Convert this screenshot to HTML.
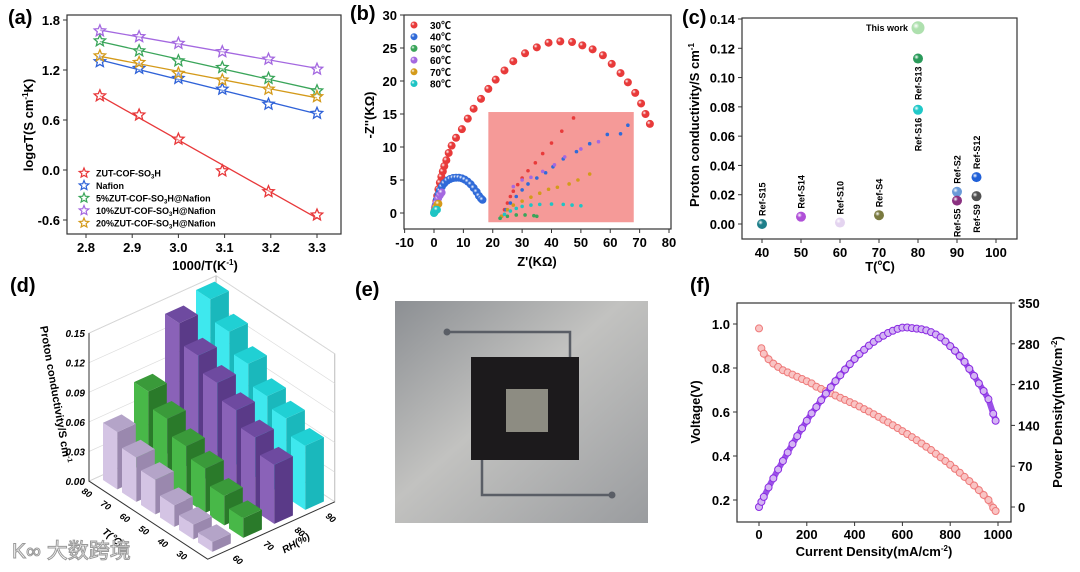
<!DOCTYPE html>
<html><head><meta charset="utf-8">
<style>
html,body{margin:0;padding:0;background:#fff;}
svg{display:block;font-family:"Liberation Sans","Noto Sans CJK SC",sans-serif;font-weight:bold;}
</style></head>
<body>
<svg id="fig" xmlns="http://www.w3.org/2000/svg" width="1080" height="572" viewBox="0 0 1080 572">
<defs>
<linearGradient id="photoBg" x1="0" y1="0" x2="1" y2="1">
<stop offset="0" stop-color="#8c8f93"/><stop offset="0.45" stop-color="#c2c2c0"/><stop offset="1" stop-color="#9a9c9f"/>
</linearGradient>
</defs>
<g id="pa"></g>
<g id="pb"></g>
<g id="pc"></g>
<g id="pd"></g>
<g id="pe">
<rect x="395" y="301" width="253" height="222" fill="url(#photoBg)"/>
<path d="M447 332 H570 V357 M482 460 V495 H612" stroke="#5a5e66" stroke-width="2.5" fill="none"/>
<circle cx="447" cy="332" r="3.5" fill="#5a5e66"/>
<circle cx="612" cy="495" r="3.5" fill="#5a5e66"/>
<rect x="471" y="357" width="108" height="103" fill="#1c1a1c"/>
<rect x="506" y="389" width="42" height="43" fill="#8d8c82"/>
</g>
<g id="pf"></g>
<text x="8" y="24" font-size="20">(a)</text>
<text x="350" y="20" font-size="20">(b)</text>
<text x="682" y="24" font-size="20">(c)</text>
<text x="10" y="292" font-size="20">(d)</text>
<text x="355" y="296" font-size="20">(e)</text>
<text x="690" y="292" font-size="20">(f)</text>
<text x="12" y="558" font-size="21" fill="#fff" stroke="#999" stroke-width="1" font-weight="normal">K∞ 大数跨境</text>
</svg>
<script>
// ---------- Panel a data ----------
const aX = [2.83, 2.915, 3.0, 3.095, 3.195, 3.3];
const aRed = [0.89, 0.66, 0.37, -0.01, -0.26, -0.54];
const aBlue = [1.30, 1.22, 1.10, 0.97, 0.79, 0.68];
const aGreen = [1.55, 1.43, 1.31, 1.23, 1.10, 0.95];
const aPurple = [1.67, 1.60, 1.52, 1.42, 1.33, 1.21];
const aOrange = [1.37, 1.29, 1.16, 1.08, 0.97, 0.88];
const aNames = ["ZUT-COF-SO3H", "Nafion", "5%ZUT-COF-SO3H@Nafion", "10%ZUT-COF-SO3H@Nafion", "20%ZUT-COF-SO3H@Nafion"];
const aXTicks = [2.8, 2.9, 3.0, 3.1, 3.2, 3.3];
const aYTicks = [-0.6, 0.0, 0.6, 1.2, 1.8];
// ---------- Panel b data ----------
const bRedX = [0.2,0.5,0.8,1.1,1.5,2,2.5,3,3.5,4.2,5,6,7.5,9.5,11.5,13.5,16,18.5,21,24,27,31,35,39,43,47,50.5,54,57.5,60.5,63.5,66,68.5,70.5,72,73.5];
const bRedY = [0.3,1,1.8,2.6,3.6,4.6,5.5,6.3,7.1,8.0,9.1,10.2,11.4,12.7,14.3,15.8,17.3,18.8,20.2,21.6,23,24.2,25.1,25.8,26,25.9,25.4,24.8,23.9,22.6,21.2,19.8,18.2,16.6,15,13.5,12];
const bBlueX = [0.3,0.6,1,1.5,2,2.7,3.5,4.5,5.5,6.5,7.5,8.5,9.5,10.5,11.5,12.5,13.5,14.5,15.3,16,16.5];
const bBlueY = [0.5,1.2,2,2.8,3.4,4,4.5,4.9,5.15,5.3,5.35,5.35,5.25,5.05,4.75,4.35,3.8,3.2,2.6,2.2,2.0];
const bPurpleX = [0.3,0.8,1.4,2,2.6];
const bPurpleY = [0.8,1.5,2.2,2.7,3.1];
const bOrangeX = [0.3,0.7,1.2,1.5];
const bOrangeY = [0.4,0.9,1.3,1.4];
const bGreenX = [0.1,0.3];
const bGreenY = [0.1,0.2];
const bCyanX = [0,0.3,0.7,1];
const bCyanY = [0,0.3,0.5,0.5];
const inRedX = [23,24,25,26,27,28.5,30,32,34.5,37,40,43.5,47.5];
const inRedY = [-0.5,0.5,1.5,2.5,3.3,4.3,5.3,6.4,7.6,9,10.6,12.4,14.4];
const inBlueX = [23,24.5,26,28,30,32,35,38,40.5,44,48.5,53,59,63.5,66];
const inBlueY = [-0.5,0.5,1.5,2.5,3.5,4.4,5.3,6.1,7,8.2,9.3,10.5,11.9,12,13.3];
const inPurpleX = [27,30,33,37,41,44.5,50,56];
const inPurpleY = [4,5,5.4,6.3,7.3,8.5,9.7,10.8];
const inOrangeX = [23,25,27,30,33,36,39,42,46,49,53];
const inOrangeY = [-0.5,0.5,1.2,1.8,2.4,3,3.6,3.9,4.4,5,5.9];
const inCyanX = [22.5,24,26,28,30,33,36,40,44,47,50];
const inCyanY = [-0.8,-0.2,0.3,0.7,1,1.2,1.3,1.35,1.3,1.2,1.1];
const inGreenX = [22.5,25,28,31,34,35];
const inGreenY = [-0.8,-0.5,-0.3,-0.3,-0.4,-0.5];
const bTemps = ["30℃","40℃","50℃","60℃","70℃","80℃"];
const bXTicks = [-10,0,10,20,30,40,50,60,70,80];
const bYTicks = [0,5,10,15,20,25,30];
// ---------- Panel c data ----------
const cT = [40, 50, 60, 70, 80, 80, 80, 90, 90, 95, 95];
const cSigma = [0.000, 0.005, 0.001, 0.006, 0.078, 0.113, 0.134, 0.022, 0.016, 0.032, 0.019];
const cLabels = ["Ref-S15","Ref-S14","Ref-S10","Ref-S4","Ref-S16","Ref-S13","This work","Ref-S2","Ref-S5","Ref-S12","Ref-S9"];
const cXTicks = [40,50,60,70,80,90,100];
const cYTicks = [0,0.02,0.04,0.06,0.08,0.10,0.12,0.14];
// ---------- Panel d data ----------
const dT = [80, 70, 60, 50, 40, 30];
const dRH = [60, 70, 80, 90];
const dRH60 = [0.058, 0.045, 0.035, 0.022, 0.015, 0.010];
const dRH70 = [0.085, 0.070, 0.055, 0.045, 0.030, 0.020];
const dRH80 = [0.140, 0.120, 0.105, 0.090, 0.075, 0.060];
const dRH90 = [0.150, 0.130, 0.110, 0.090, 0.080, 0.065];
const dZTicks = [0, 0.03, 0.06, 0.09, 0.12, 0.15];
// ---------- Panel f data ----------
const fI = [0,10,20,40,60,80,100,120,140,160,180,200,220,240,260,280,300,320,340,360,380,400,420,440,460,480,500,520,540,560,580,600,620,640,660,680,700,720,740,760,780,800,820,840,860,880,900,920,940,960,980,990];
const fV = [0.98,0.89,0.865,0.84,0.82,0.805,0.79,0.78,0.77,0.76,0.75,0.74,0.73,0.715,0.705,0.695,0.685,0.675,0.665,0.655,0.645,0.635,0.625,0.613,0.602,0.59,0.578,0.565,0.553,0.54,0.527,0.513,0.50,0.486,0.472,0.457,0.442,0.427,0.41,0.394,0.377,0.36,0.342,0.324,0.305,0.286,0.266,0.245,0.223,0.2,0.165,0.15];
const fP = [0,8.9,17.3,33.6,49.2,64.4,79,93.6,107.8,121.6,135,148,160.6,171.6,183.3,194.6,205.5,216,226.1,235.8,245.1,254,262.5,269.7,276.9,283.2,289,293.8,298.6,302.4,305.7,307.8,308,307,306,305,303,300,296,291,284,276,268,259,249,237,225,212,199,185,160,148];
const fXTicks = [0,200,400,600,800,1000];
const fVTicks = [0.2,0.4,0.6,0.8,1.0];
const fPTicks = [0,70,140,210,280,350];

const NS = "http://www.w3.org/2000/svg";
function mk(parent, tag, attrs, txt) {
  const e = document.createElementNS(NS, tag);
  for (const k in attrs) e.setAttribute(k, attrs[k]);
  if (txt !== undefined) e.textContent = txt;
  parent.appendChild(e);
  return e;
}
function lin(d0, d1, r0, r1) { return v => r0 + (v - d0) * (r1 - r0) / (d1 - d0); }
const defs = document.querySelector("defs");
let gid = 0;
function ball(color) {
  const id = "g" + (gid++);
  const g = mk(defs, "radialGradient", {id: id, cx: "0.35", cy: "0.35", r: "0.7"});
  mk(g, "stop", {offset: "0", "stop-color": "#ffffff"});
  mk(g, "stop", {offset: "0.35", "stop-color": color});
  mk(g, "stop", {offset: "1", "stop-color": color});
  return "url(#" + id + ")";
}
function fmt(v, d) { return v.toFixed(d); }

// ===== Panel a =====
(function () {
  const g = document.getElementById("pa");
  const x = lin(2.8, 3.3, 86, 317), y = lin(0, 0.6, 170, 120);
  const box = mk(g, "rect", {x: 67, y: 15, width: 274, height: 219, fill: "none", stroke: "#333", "stroke-width": 1.2});
  
  
  aXTicks.forEach(t => {
    const tk = mk(g, "line", {x1: x(t), x2: x(t), y1: 234, y2: 238, stroke: "#333"});
    
    
    const tl = mk(g, "text", {x: x(t), y: 252, "font-size": 13, "text-anchor": "middle"}, fmt(t, 1));
    
    
  });
  aYTicks.forEach(t => {
    const tk = mk(g, "line", {x1: 63, x2: 67, y1: y(t), y2: y(t), stroke: "#333"});
    
    
    const tl = mk(g, "text", {x: 60, y: y(t) + 5, "font-size": 13, "text-anchor": "end"}, fmt(t, 1));
    
    
  });
  const xt = mk(g, "text", {x: 205, y: 270, "font-size": 13, "text-anchor": "middle"});
  xt.innerHTML = '1000/T(K<tspan dy="-5" font-size="8">-1</tspan><tspan dy="5">)</tspan>';
  
  
  const yt = mk(g, "text", {x: 0, y: 0, "font-size": 13, "text-anchor": "middle", transform: "translate(33,125) rotate(-90)"});
  yt.innerHTML = 'logσT(S cm<tspan dy="-5" font-size="8">-1</tspan><tspan dy="5">K)</tspan>';
  
  
  const series = [aRed, aBlue, aGreen, aPurple, aOrange];
  const cols = ["#e8383a", "#2f62d8", "#3aa55a", "#a468e0", "#d49a1a"];
  function star(cx, cy, r) {
    let d = "";
    for (let i = 0; i < 10; i++) {
      const a = -Math.PI / 2 + i * Math.PI / 5, rr = i % 2 ? r * 0.45 : r;
      d += (i ? "L" : "M") + (cx + rr * Math.cos(a)).toFixed(1) + " " + (cy + rr * Math.sin(a)).toFixed(1);
    }
    return d + "Z";
  }
  series.forEach((s, k) => {
    const n = aX.length;
    const mx = aX.reduce((a, b) => a + b) / n, my = s.reduce((a, b) => a + b) / n;
    let sxy = 0, sxx = 0;
    aX.forEach((v, i) => { sxy += (v - mx) * (s[i] - my); sxx += (v - mx) * (v - mx); });
    const sl = sxy / sxx, ic = my - sl * mx;
    const ln = mk(g, "line", {x1: x(aX[0]), y1: y(ic + sl * aX[0]), x2: x(aX[n - 1]), y2: y(ic + sl * aX[n - 1]), stroke: cols[k], "stroke-width": 1.3});
    
    
    s.forEach((v, i) => {
      const p = mk(g, "path", {d: star(x(aX[i]), y(v), 6), fill: "#fff", "fill-opacity": 0.4, stroke: cols[k], "stroke-width": 1.3});
      
      
    });
    const ly = 173 + k * 12.5;
    const lm = mk(g, "path", {d: star(84, ly, 5), fill: "none", stroke: cols[k], "stroke-width": 1.2});
    
    
    const lt = mk(g, "text", {x: 96, y: ly + 3.5, "font-size": 9});
    lt.innerHTML = aNames[k].replace("SO3H", 'SO<tspan font-size="6" dy="2">3</tspan><tspan dy="-2">H</tspan>');
    
    
  });
})();

// ===== Panel b =====
(function () {
  const g = document.getElementById("pb");
  const x = lin(0, 80, 434, 669), y = lin(0, 30, 213, 15);
  const box = mk(g, "rect", {x: 404, y: 15, width: 267, height: 214, fill: "none", stroke: "#333", "stroke-width": 1.2});
  
  
  const inset = mk(g, "rect", {x: x(18.5), y: y(15.3), width: x(68) - x(18.5), height: y(-1.4) - y(15.3), fill: "#f59a98"});
  
  
  bXTicks.forEach(t => {
    const tk = mk(g, "line", {x1: x(t), x2: x(t), y1: 229, y2: 233, stroke: "#333"});
    
    
    const tl = mk(g, "text", {x: x(t), y: 247, "font-size": 13, "text-anchor": "middle"}, t);
    
    
  });
  bYTicks.forEach(t => {
    const tk = mk(g, "line", {x1: 400, x2: 404, y1: y(t), y2: y(t), stroke: "#333"});
    
    
    const tl = mk(g, "text", {x: 397, y: y(t) + 5, "font-size": 13, "text-anchor": "end"}, t);
    
    
  });
  const xt = mk(g, "text", {x: 537, y: 266, "font-size": 13, "text-anchor": "middle"}, "Z'(KΩ)");
  
  
  const yt = mk(g, "text", {x: 0, y: 0, "font-size": 13, "text-anchor": "middle", transform: "translate(374,115) rotate(-90)"}, "-Z''(KΩ)");
  
  
  const cols = ["#e83a3a", "#2f6ad8", "#3aa55a", "#a468e0", "#d49a1a", "#1ec4c4"];
  const main = [[bRedX, bRedY, 0], [bBlueX, bBlueY, 1], [bPurpleX, bPurpleY, 3], [bOrangeX, bOrangeY, 4], [bGreenX, bGreenY, 2], [bCyanX, bCyanY, 5]];
  const fills = cols.map(c => ball(c));
  main.forEach(([xs, ys, k]) => {
    xs.forEach((v, i) => {
      const c = mk(g, "circle", {cx: x(v), cy: y(ys[i]), r: 4, fill: fills[k]});
      
      
    });
  });
  const ins = [[inRedX, inRedY, 0], [inBlueX, inBlueY, 1], [inPurpleX, inPurpleY, 3], [inOrangeX, inOrangeY, 4], [inCyanX, inCyanY, 5], [inGreenX, inGreenY, 2]];
  ins.forEach(([xs, ys, k]) => {
    xs.forEach((v, i) => {
      const c = mk(g, "circle", {cx: x(v), cy: y(ys[i]), r: 1.8, fill: cols[k]});
      
      
    });
  });
  bTemps.forEach((t, k) => {
    const ly = 25 + k * 11.7;
    const c = mk(g, "circle", {cx: 414, cy: ly, r: 3.5, fill: fills[k]});
    
    
    const lt = mk(g, "text", {x: 430, y: ly + 4, "font-size": 10}, t);
    
    
  });
})();

// ===== Panel c =====
(function () {
  const g = document.getElementById("pc");
  const x = lin(40, 100, 762, 996), y = lin(0, 0.14, 224, 19);
  const box = mk(g, "rect", {x: 742, y: 18, width: 275, height: 221, fill: "none", stroke: "#333", "stroke-width": 1.2});
  
  
  cXTicks.forEach(t => {
    const tk = mk(g, "line", {x1: x(t), x2: x(t), y1: 239, y2: 243, stroke: "#333"});
    
    
    const tl = mk(g, "text", {x: x(t), y: 257, "font-size": 13, "text-anchor": "middle"}, t);
    
    
  });
  cYTicks.forEach(t => {
    const tk = mk(g, "line", {x1: 738, x2: 742, y1: y(t), y2: y(t), stroke: "#333"});
    
    
    const tl = mk(g, "text", {x: 735, y: y(t) + 5, "font-size": 13, "text-anchor": "end"}, fmt(t, 2));
    
    
  });
  const xt = mk(g, "text", {x: 880, y: 271, "font-size": 13, "text-anchor": "middle"}, "T(℃)");
  
  
  const yt = mk(g, "text", {x: 0, y: 0, "font-size": 13, "text-anchor": "middle", transform: "translate(699,125) rotate(-90)"});
  yt.innerHTML = 'Proton conductivity/S cm<tspan dy="-5" font-size="8">-1</tspan>';
  
  
  const cols = ["#1f7f8a", "#b050d8", "#e4d4f0", "#7a7a40", "#20c8c8", "#2a9a5a", "#aee0ae", "#6a9ad8", "#8a3080", "#2060d8", "#505050"];
  const below = {"Ref-S16": 1, "Ref-S13": 1, "Ref-S5": 1, "Ref-S9": 1};
  cT.forEach((t, i) => {
    const px = x(t), py = y(cSigma[i]);
    const big = cLabels[i] === "This work";
    const c = mk(g, "circle", {cx: px, cy: py, r: big ? 6.5 : 5, fill: ball(cols[i])});
    
    
    let lbl;
    if (big) {
      lbl = mk(g, "text", {x: px - 10, y: py + 3, "font-size": 9, "text-anchor": "end"}, cLabels[i]);
    } else if (below[cLabels[i]]) {
      lbl = mk(g, "text", {x: 0, y: 0, "font-size": 9, "text-anchor": "end", transform: "translate(" + (px + 3.5) + "," + (py + 8) + ") rotate(-90)"}, cLabels[i]);
    } else {
      lbl = mk(g, "text", {x: 0, y: 0, "font-size": 9, "text-anchor": "start", transform: "translate(" + (px + 3.5) + "," + (py - 8) + ") rotate(-90)"}, cLabels[i]);
    }
    
    
  });
})();

// ===== Panel d =====
(function () {
  const g = document.getElementById("pd");
  const H = 148 / 0.15;
  function P(ti, ri, z) { return [103 + ti * 19 + ri * 31, 480 + ti * 12.5 - ri * 14 - z * H]; }
  function pts(a) { return a.map(p => p[0].toFixed(1) + "," + p[1].toFixed(1)).join(" "); }
  const w1 = [P(-0.25, -0.3, 0), P(-0.25, 3.8, 0), P(-0.25, 3.8, 0.15), P(-0.25, -0.3, 0.15)];
  const w2 = [P(-0.25, 3.8, 0), P(6, 3.8, 0), P(6, 3.8, 0.15), P(-0.25, 3.8, 0.15)];
  [w1, w2].forEach(w => {
    const p = mk(g, "polygon", {points: pts(w), fill: "#fff", stroke: "#aaa", "stroke-width": 0.8});
    
    
  });
  dZTicks.forEach(z => {
    const l = mk(g, "polyline", {points: pts([P(-0.25, -0.3, z), P(-0.25, 3.8, z), P(6, 3.8, z)]), fill: "none", stroke: "#ddd", "stroke-width": 0.7});
    
    
    const a = P(-0.25, -0.3, z);
    const t = mk(g, "text", {x: a[0] - 4, y: a[1] + 4, "font-size": 10, "font-style": "italic", "text-anchor": "end"}, fmt(z, 2));
    
    
  });
  const ax = mk(g, "polyline", {points: pts([P(-0.25, -0.3, 0.15), P(-0.25, -0.3, 0), P(6, -0.3, 0), P(6, 3.8, 0)]), fill: "none", stroke: "#333", "stroke-width": 1});
  
  
  const rows = [[dRH90, "#3ee8ee", "#1ab8bc", "#20d0d4"], [dRH80, "#8a62b8", "#5a3a88", "#6e4aa0"], [dRH70, "#48b848", "#2a7a2a", "#3a9a3a"], [dRH60, "#d4c4e4", "#9a88ae", "#b4a4c8"]];
  const rIdx = [3, 2, 1, 0];
  rows.forEach((row, k) => {
    const ri = rIdx[k];
    const vals = row[0];
    vals.forEach((v, ti) => {
      const w = 0.75, d = 0.6;
      const A = P(ti, ri, 0), B = P(ti + w, ri, 0), C = P(ti + w, ri + d, 0);
      const At = P(ti, ri, v), Bt = P(ti + w, ri, v), Ct = P(ti + w, ri + d, v), Dt = P(ti, ri + d, v);
      const f1 = mk(g, "polygon", {points: pts([A, B, Bt, At]), fill: row[1]});
      
      
      const f2 = mk(g, "polygon", {points: pts([B, C, Ct, Bt]), fill: row[2]});
      
      
      const f3 = mk(g, "polygon", {points: pts([At, Bt, Ct, Dt]), fill: row[3]});
      
      
    });
  });
  dT.forEach((t, ti) => {
    const p = P(ti + 0.2, -0.7, 0);
    const l = mk(g, "text", {x: 0, y: 0, "font-size": 9, "font-style": "italic", "text-anchor": "middle", transform: "translate(" + p[0] + "," + (p[1] + 3) + ") rotate(35)"}, t);
    
    
  });
  dRH.forEach((r, ri) => {
    const p = P(6.5, ri + 0.3, 0);
    const l = mk(g, "text", {x: 0, y: 0, "font-size": 9, "font-style": "italic", "text-anchor": "middle", transform: "translate(" + p[0] + "," + (p[1] + 5) + ") rotate(40)"}, r);
    
    
  });
  const tp = P(3, -1.6, 0);
  const tt = mk(g, "text", {x: 0, y: 0, "font-size": 10, "font-style": "italic", "text-anchor": "middle", transform: "translate(" + tp[0] + "," + tp[1] + ") rotate(40)"}, "T(℃)");
  
  
  const rp = P(7.3, 1.8, 0);
  const rt = mk(g, "text", {x: 0, y: 0, "font-size": 10, "font-style": "italic", "text-anchor": "middle", transform: "translate(" + rp[0] + "," + rp[1] + ") rotate(-30)"}, "RH(%)");
  
  
  const zt = mk(g, "text", {x: 0, y: 0, "font-size": 11, "text-anchor": "middle", transform: "translate(52,395) rotate(80)"});
  zt.innerHTML = 'Proton conductivity/S cm<tspan dy="-4" font-size="7">-1</tspan>';
  
  
})();

// ===== Panel f =====
(function () {
  const g = document.getElementById("pf");
  const x = lin(0, 1000, 759, 998), yv = lin(0.2, 1.0, 500, 324), yp = lin(0, 350, 507, 303);
  const box = mk(g, "rect", {x: 737, y: 303, width: 274, height: 219, fill: "none", stroke: "#333", "stroke-width": 1.2});
  
  
  fXTicks.forEach(t => {
    const tk = mk(g, "line", {x1: x(t), x2: x(t), y1: 522, y2: 526, stroke: "#333"});
    
    
    const tl = mk(g, "text", {x: x(t), y: 539, "font-size": 13, "text-anchor": "middle"}, t);
    
    
  });
  fVTicks.forEach(t => {
    const tk = mk(g, "line", {x1: 733, x2: 737, y1: yv(t), y2: yv(t), stroke: "#333"});
    
    
    const tl = mk(g, "text", {x: 730, y: yv(t) + 5, "font-size": 13, "text-anchor": "end"}, fmt(t, 1));
    
    
  });
  fPTicks.forEach(t => {
    const tk = mk(g, "line", {x1: 1011, x2: 1015, y1: yp(t), y2: yp(t), stroke: "#333"});
    
    
    const tl = mk(g, "text", {x: 1018, y: yp(t) + 5, "font-size": 13}, t);
    
    
  });
  const xt = mk(g, "text", {x: 874, y: 556, "font-size": 13, "text-anchor": "middle"});
  xt.innerHTML = 'Current Density(mA/cm<tspan dy="-5" font-size="8">-2</tspan><tspan dy="5">)</tspan>';
  
  
  const yl = mk(g, "text", {x: 0, y: 0, "font-size": 13, "text-anchor": "middle", transform: "translate(700,412) rotate(-90)"}, "Voltage(V)");
  
  
  const yr = mk(g, "text", {x: 0, y: 0, "font-size": 13, "text-anchor": "middle", transform: "translate(1062,412) rotate(-90)"});
  yr.innerHTML = 'Power Density(mW/cm<tspan dy="-5" font-size="8">-2</tspan><tspan dy="5">)</tspan>';
  
  
  const vl = mk(g, "polyline", {points: fI.slice(1).map((v, i) => x(v).toFixed(1) + "," + yv(fV[i + 1]).toFixed(1)).join(" "), fill: "none", stroke: "#f4a8a8", "stroke-width": 6, "stroke-linejoin": "round"});
  
  
  fI.forEach((v, i) => {
    const c = mk(g, "circle", {cx: x(v), cy: yv(fV[i]), r: 3.5, fill: "#f9c4c4", stroke: "#ee7a7a", "stroke-width": 1});
    
    
  });
  const pl = mk(g, "polyline", {points: fI.map((v, i) => x(v).toFixed(1) + "," + yp(fP[i]).toFixed(1)).join(" "), fill: "none", stroke: "#9a50e8", "stroke-width": 6, "stroke-linejoin": "round"});
  
  
  fI.forEach((v, i) => {
    const c = mk(g, "circle", {cx: x(v), cy: yp(fP[i]), r: 3.5, fill: "#d4b4f4", stroke: "#8a2be2", "stroke-width": 1});
    
    
  });
})();
</script>
</body></html>
